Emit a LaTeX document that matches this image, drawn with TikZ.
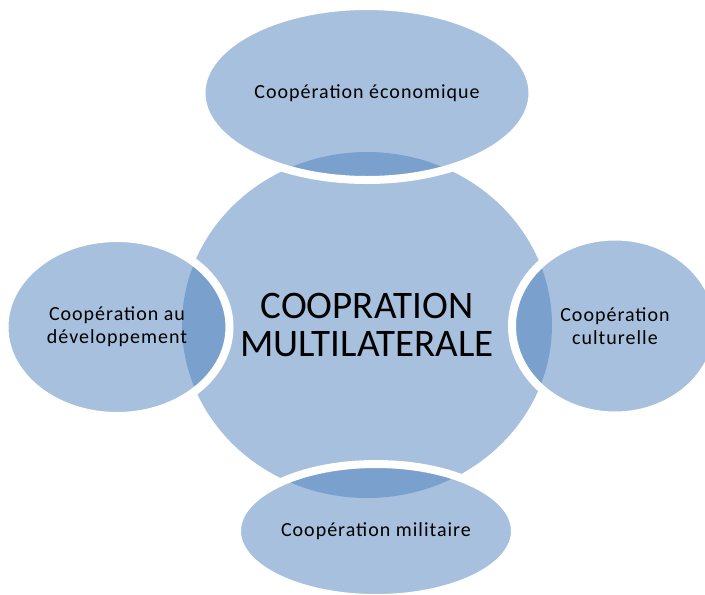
\documentclass[tikz,border=0pt]{standalone}
\usepackage{fontspec}
\setmainfont{Carlito}
\usepackage{tikz}
\usetikzlibrary{positioning,shapes.geometric}
\definecolor{venn}{HTML}{4F81BD}

\begin{document}
\begin{tikzpicture}[
    x=1pt, y=-1pt,
    blob/.style={ellipse, fill=venn, fill opacity=0.5, text opacity=1, draw=white, line width=8pt, inner sep=0pt, outer sep=0pt, align=center},
    hub/.style={blob, draw=none, minimum width=370pt, minimum height=346pt, font=\fontsize{39}{38}\selectfont},
    sat/.style={blob, font=\fontsize{20}{23}\selectfont\addfontfeatures{LetterSpace=5}},
]
    \useasboundingbox (0,0) rectangle (705,595);
    \node[hub] (multi) at (367,325) {COOPRATION\\MULTILATERALE};
    \node[sat, minimum width=331pt, minimum height=174pt] (eco) at (367,93) {Coopération économique};
    \node[sat, minimum width=225pt, minimum height=178pt] (dev) at (117,327) {Coopération au\\développement};
    \node[sat, minimum width=206pt, minimum height=179pt] (cult) at (615,326) {Coopération\\culturelle};
    \node[sat, minimum width=278pt, minimum height=134pt] (mil) at (376,531) {\raisebox{-4pt}{Coopération militaire}};
\end{tikzpicture}
\end{document}
